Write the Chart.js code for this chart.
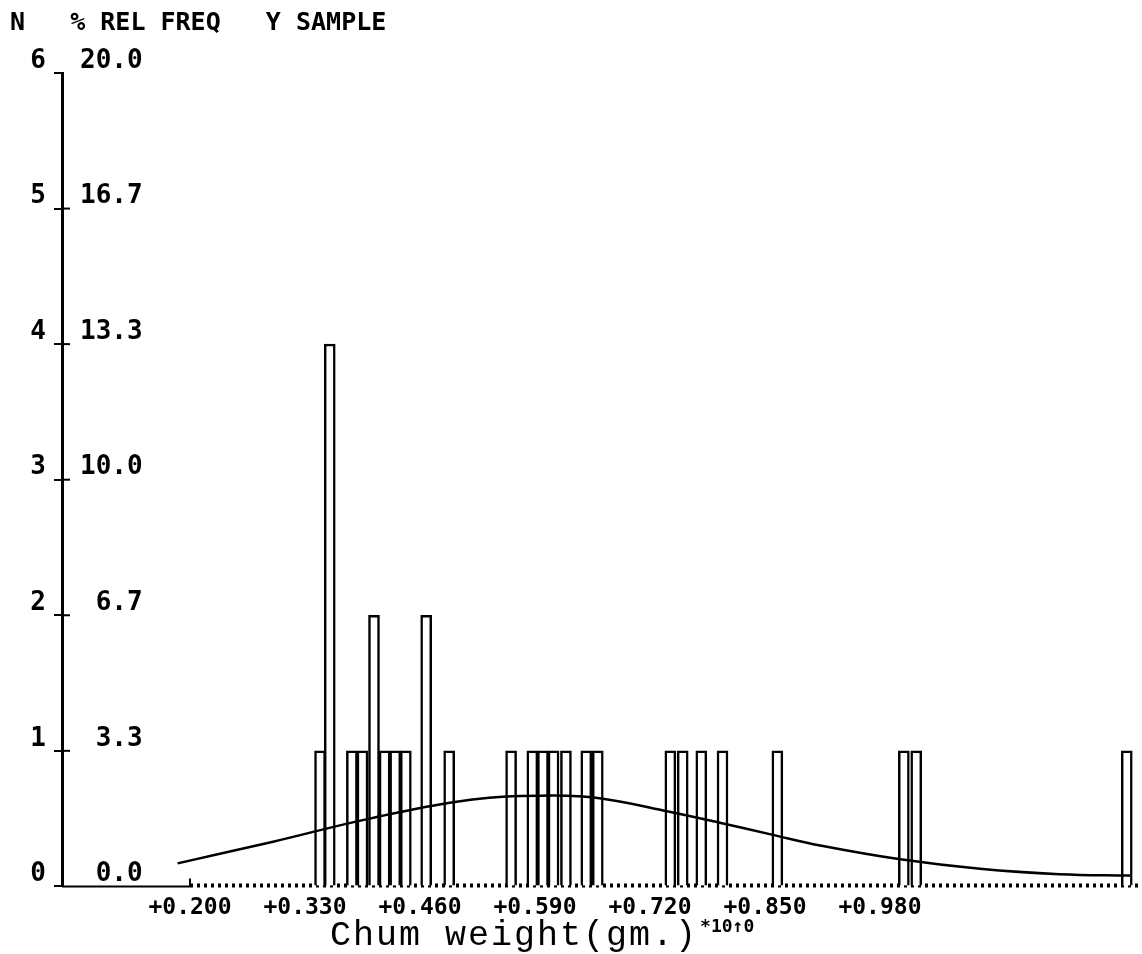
<!DOCTYPE html>
<html lang="en">
  <head>
    <meta charset="UTF-8" />
    <title>Chum weight</title>
    <script src="https://cdn.jsdelivr.net/npm/chart.js"></script>
    <style>
      body { margin: 0; background: #fff; }
      #wrap { width: 1142px; height: 954px; }
    </style>
  </head>
  <body>
    <div id="wrap"><canvas id="chum"></canvas></div>
    <script>
      // histogram: bin centre (gm.) and count N
      const binCentres = [
        0.347, 0.358, 0.383, 0.395, 0.408, 0.420, 0.432, 0.444, 0.467, 0.493,
        0.563, 0.587, 0.599, 0.611, 0.625, 0.648, 0.661,
        0.743, 0.757, 0.778, 0.802, 0.864,
        1.007, 1.021, 1.259,
      ];
      const counts = [
        1, 4, 1, 1, 2, 1, 1, 1, 2, 1,
        1, 1, 1, 1, 1, 1, 1,
        1, 1, 1, 1, 1,
        1, 1, 1,
      ];
      // fitted curve (in N units)
      const curveX = [0.186, 0.294, 0.403, 0.517, 0.607, 0.663, 0.735, 0.799, 0.859, 0.914, 1.003, 1.093, 1.183, 1.263];
      const curveY = [0.17, 0.33, 0.50, 0.64, 0.67, 0.65, 0.56, 0.47, 0.38, 0.30, 0.20, 0.13, 0.09, 0.08];

      const nTicks = [0, 1, 2, 3, 4, 5, 6];
      const relFreqLabels = [" 0.0", " 3.3", " 6.7", "10.0", "13.3", "16.7", "20.0"];
      const xTicks = [0.2, 0.33, 0.46, 0.59, 0.72, 0.85, 0.98];
      const xTickLabels = ["+0.200", "+0.330", "+0.460", "+0.590", "+0.720", "+0.850", "+0.980"];

      const mono = "'DejaVu Sans Mono', monospace";

      // axis crosses, dotted baseline and the x caption
      const extras = {
        id: "extras",
        beforeDatasetsDraw(chart) {
          const { ctx, scales, chartArea } = chart;
          const y0 = scales.y.getPixelForValue(0);
          const xs = scales.x.getPixelForValue(xTicks[0]);
          ctx.save();
          ctx.strokeStyle = "#000";
          ctx.lineWidth = 2;
          ctx.beginPath();
          ctx.moveTo(chartArea.left, y0);
          ctx.lineTo(xs, y0);
          ctx.moveTo(xs, y0);
          ctx.lineTo(xs, y0 - 8);
          ctx.stroke();
          ctx.lineWidth = 4;
          ctx.setLineDash([3, 4]);
          ctx.beginPath();
          ctx.moveTo(xs, y0 - 1);
          ctx.lineTo(chartArea.right, y0 - 1);
          ctx.stroke();
          ctx.restore();
        },
        afterDraw(chart) {
          const { ctx, scales, chartArea } = chart;
          ctx.save();
          ctx.strokeStyle = "#000";
          ctx.lineWidth = 2;
          nTicks.slice(1, 6).forEach((v) => {
            const y = scales.y.getPixelForValue(v);
            ctx.beginPath();
            ctx.moveTo(chartArea.left, y);
            ctx.lineTo(chartArea.left + 8, y);
            ctx.stroke();
          });
          ctx.fillStyle = "#000";
          ctx.font = "35px 'Liberation Mono', monospace";
          ctx.letterSpacing = "2px";
          ctx.textBaseline = "alphabetic";
          const cap = "Chum weight(gm.)";
          ctx.fillText(cap, 330, 945);
          const w = ctx.measureText(cap).width;
          ctx.letterSpacing = "0px";
          ctx.font = "bold 18px " + mono;
          ctx.fillText("*10\u21910", 332 + w, 932);
          ctx.restore();
        },
      };

      const config = {
        data: {
          datasets: [
            {
              type: "line",
              data: curveX.map((x, i) => ({ x, y: curveY[i] })),
              borderColor: "#000",
              borderWidth: 2.5,
              pointRadius: 0,
              tension: 0.4,
              fill: false,
              yAxisID: "y",
              order: 0,
            },
            {
              type: "bar",
              data: binCentres.map((x, i) => ({ x, y: counts[i] })),
              backgroundColor: "#fff",
              borderColor: "#000",
              borderWidth: 2.5,
              barThickness: 11,
              yAxisID: "y",
              order: 1,
            },
          ],
        },
        options: {
          responsive: true,
          maintainAspectRatio: false,
          animation: false,
          layout: { padding: { left: 10, right: 4, top: 0, bottom: 32 } },
          plugins: {
            legend: { display: false },
            tooltip: { enabled: false },
            title: {
              display: true,
              text: "N   % REL FREQ   Y SAMPLE",
              align: "start",
              color: "#000",
              font: { family: mono, size: 25, weight: "bold" },
              padding: { top: 8, bottom: 35 },
            },
          },
          scales: {
            x: {
              type: "linear",
              offset: false,
              min: 0.0553,
              max: 1.2717,
              afterBuildTicks: (s) => { s.ticks = xTicks.map((v) => ({ value: v })); },
              ticks: {
                callback: (v, i) => xTickLabels[i],
                color: "#000",
                padding: 0,
                maxRotation: 0,
                autoSkip: false,
                font: { family: mono, size: 23, weight: "bold" },
              },
              grid: { display: false },
              border: { display: false },
            },
            y: {
              position: "left",
              weight: 1,
              min: 0,
              max: 6,
              afterBuildTicks: (s) => { s.ticks = nTicks.map((v) => ({ value: v })); },
              afterFit: (s) => { s.width = 52; },
              ticks: {
                color: "#000",
                padding: 8,
                labelOffset: -12,
                font: { family: mono, size: 26, weight: "bold" },
              },
              grid: { drawOnChartArea: false, color: "#000", lineWidth: 2, tickLength: 8 },
              border: { color: "#000", width: 3 },
            },
            y2: {
              position: "left",
              weight: 0,
              min: 0,
              max: 6,
              afterBuildTicks: (s) => { s.ticks = nTicks.map((v) => ({ value: v })); },
              afterFit: (s) => { s.width = 0; },
              ticks: {
                mirror: true,
                crossAlign: "far",
                padding: 18,
                labelOffset: -12,
                color: "#000",
                callback: (v, i) => relFreqLabels[i],
                font: { family: mono, size: 26, weight: "bold" },
              },
              grid: { display: false },
              border: { display: false },
            },
          },
        },
        plugins: [extras],
      };

      new Chart(document.getElementById("chum"), config);
    </script>
  </body>
</html>
